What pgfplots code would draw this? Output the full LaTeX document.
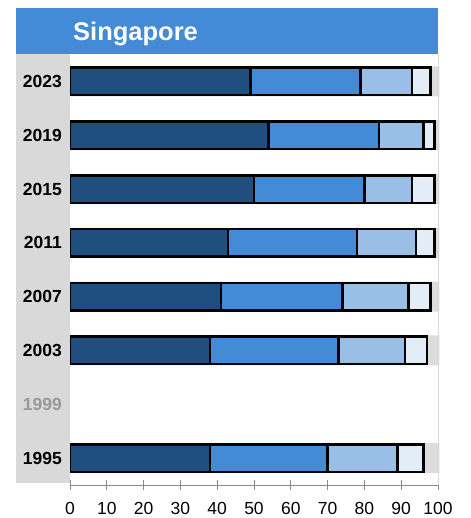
\documentclass[border=0pt]{standalone}
\usepackage{pgfplots}
\usepackage{pgfplotstable}
\pgfplotsset{compat=1.18}
\usepackage{fontspec}
\setmainfont{Liberation Sans}

\definecolor{segA}{HTML}{1F4E7F}
\definecolor{segB}{HTML}{438BD6}
\definecolor{segC}{HTML}{9ABFE7}
\definecolor{segD}{HTML}{E3EDF8}
\definecolor{bandgray}{HTML}{D9D9D9}
\definecolor{trackgray}{HTML}{DCDCDC}
\definecolor{axisgray}{HTML}{8C8C8C}
\definecolor{titleblue}{HTML}{438BD6}

% y: 0=1995, 1=1999 (no data), 2=2003, ... 7=2023
\pgfplotstableread{
y  a  b  c  d
0  38 32 19 7
2  38 35 18 6
3  41 33 18 6
4  43 35 16 5
5  50 30 13 6
6  54 30 12 3
7  49 30 14 5
}\shares

\begin{document}
\begin{tikzpicture}
% left label band and title bar
\fill[bandgray] (-54pt,2pt) rectangle (0pt,430.5pt);
\fill[titleblue] (-54pt,430.5pt) rectangle (368pt,476.5pt);
\node[anchor=west, inner sep=0pt, text=white,
      font=\bfseries\fontsize{25.5}{30}\selectfont] at (3pt,451.5pt) {Singapore};

\begin{axis}[
    scale only axis,
    width=368pt, height=430.5pt,
    xmin=0, xmax=100, ymin=-0.5, ymax=7.5,
    axis x line*=bottom,
    axis y line*=left,
    y axis line style={draw=none},
    x axis line style={axisgray, line width=0.8pt},
    xtick={0,10,...,100},
    tick align=center,
    major tick length=10pt,
    xtick style={axisgray, line width=0.8pt},
    ytick style={draw=none},
    /pgf/number format/assume math mode=true,
    xticklabel style={font=\fontsize{17.5}{20}\selectfont, inner sep=0pt, anchor=north, yshift=-12.5pt},
    ytick={0,...,7},
    yticklabels={1995,\textcolor{black!40}{1999},2003,2007,2011,2015,2019,2023},
    yticklabel style={font=\bfseries\fontsize{17.5}{20}\selectfont, inner sep=0pt, anchor=east, xshift=-3pt},
    clip=false,
]
\addplot[xbar, bar width=30pt, fill=trackgray, draw=none] table[x expr=100.4, y=y] {\shares};
\draw[bandgray, line width=0.8pt] (rel axis cs:1,0) -- (rel axis cs:1,1);
\end{axis}

\begin{axis}[
    scale only axis,
    width=368pt, height=430.5pt,
    xmin=0, xmax=100, ymin=-0.5, ymax=7.5,
    hide axis,
    xbar stacked,
    bar width=27.5pt,
    every axis plot/.append style={draw=black, line width=2.5pt},
]
\addplot[fill=segA] table[x=a, y=y] {\shares};
\addplot[fill=segB] table[x=b, y=y] {\shares};
\addplot[fill=segC] table[x=c, y=y] {\shares};
\addplot[fill=segD] table[x=d, y=y] {\shares};
\end{axis}

\pgfresetboundingbox
\path[use as bounding box] (-70pt,-33pt) rectangle (400pt,485pt);
\end{tikzpicture}
\end{document}
